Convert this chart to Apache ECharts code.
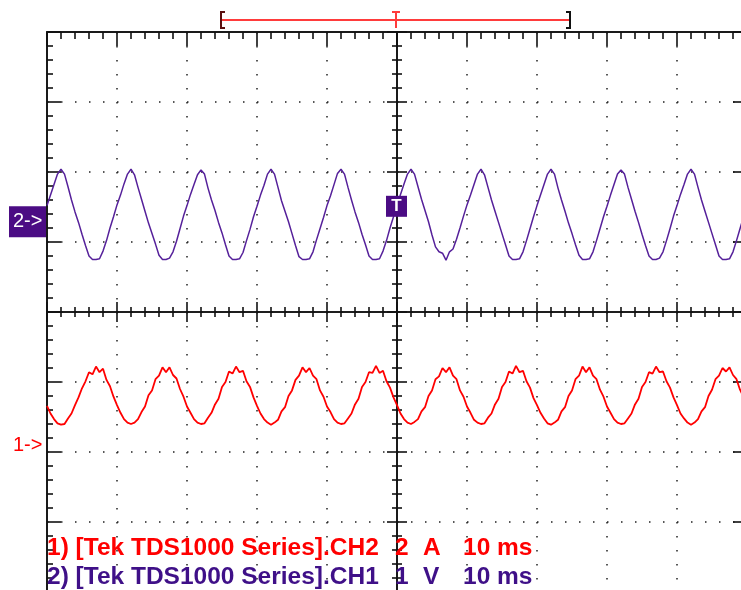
<!DOCTYPE html>
<html lang="en">
<head>
    <meta charset="utf-8">
    <title>Tek TDS1000 capture</title>
    <style media="screen">
        html, body { margin: 0; padding: 0; background: #fff; }
        #id-main-area { width: 741px; height: 590px; }
    </style>
</head>
<body>
    <div id="id-main-area"></div>
    <script src="https://cdn.jsdelivr.net/npm/echarts@6/dist/echarts.min.js"></script>
    <script>
        var log = console.log.bind(console)

        // sample clock: one sample every 0.5 ms, screen spans -50 .. 50 ms (10 ms/div)
        var startMs = -50
        var stepMs = 0.5

        // traces, in divisions from the centre line
        var ch2Trace = [
            1.52, 1.67, 1.82, 1.97, 2.04,
            1.97, 1.79, 1.60, 1.43, 1.28, 1.11, 0.95, 0.80, 0.75, 0.75, 0.76, 0.87, 1.02, 1.20, 1.36, 1.53, 1.67, 1.83, 1.97, 2.04,
            1.96, 1.78, 1.61, 1.44, 1.27, 1.12, 0.97, 0.81, 0.75, 0.75, 0.77, 0.86, 1.01, 1.19, 1.37, 1.52, 1.68, 1.82, 1.96, 2.03,
            1.97, 1.77, 1.60, 1.45, 1.28, 1.13, 0.96, 0.80, 0.75, 0.75, 0.76, 0.85, 1.02, 1.18, 1.36, 1.51, 1.67, 1.81, 1.97, 2.04,
            1.97, 1.78, 1.59, 1.44, 1.29, 1.12, 0.95, 0.79, 0.75, 0.75, 0.76, 0.86, 1.03, 1.19, 1.35, 1.52, 1.66, 1.82, 1.98, 2.04,
            1.97, 1.78, 1.60, 1.43, 1.28, 1.11, 0.96, 0.80, 0.75, 0.75, 0.76, 0.87, 1.02, 1.20, 1.36, 1.52, 1.68, 1.83, 1.97, 2.04,
            1.97, 1.79, 1.61, 1.45, 1.29, 1.10, 0.93, 0.86, 0.84, 0.74, 0.86, 0.90, 1.04, 1.20, 1.37, 1.53, 1.67, 1.82, 1.97, 2.04,
            1.96, 1.78, 1.60, 1.44, 1.28, 1.12, 0.96, 0.80, 0.75, 0.75, 0.76, 0.86, 1.02, 1.19, 1.36, 1.52, 1.67, 1.82, 1.97, 2.04,
            1.97, 1.77, 1.60, 1.44, 1.27, 1.12, 0.96, 0.81, 0.75, 0.75, 0.76, 0.86, 1.02, 1.19, 1.36, 1.51, 1.67, 1.82, 1.97, 2.03,
            1.97, 1.78, 1.61, 1.44, 1.28, 1.11, 0.95, 0.80, 0.75, 0.75, 0.77, 0.86, 1.02, 1.19, 1.37, 1.52, 1.68, 1.82, 1.97, 2.04,
            1.97, 1.78, 1.60, 1.44, 1.28, 1.12, 0.96, 0.80, 0.75, 0.75, 0.76, 0.86, 1.02, 1.19, 1.36, 1.52,
        ]

        var ch1Trace = [
            -1.34, -1.45, -1.53, -1.59, -1.61,
            -1.60, -1.52, -1.45, -1.33, -1.22, -1.09, -0.99, -0.86, -0.89, -0.78, -0.86, -0.81, -0.97, -1.06, -1.21, -1.33, -1.44, -1.53, -1.58, -1.60,
            -1.58, -1.53, -1.43, -1.35, -1.19, -1.12, -0.96, -0.91, -0.79, -0.86, -0.79, -0.90, -0.95, -1.10, -1.21, -1.35, -1.44, -1.53, -1.58, -1.60,
            -1.59, -1.51, -1.44, -1.32, -1.24, -1.07, -1.00, -0.85, -0.88, -0.78, -0.86, -0.84, -0.99, -1.07, -1.22, -1.34, -1.45, -1.53, -1.58, -1.61,
            -1.58, -1.54, -1.42, -1.36, -1.20, -1.12, -0.97, -0.91, -0.79, -0.86, -0.80, -0.91, -0.96, -1.12, -1.21, -1.35, -1.43, -1.53, -1.58, -1.60,
            -1.59, -1.52, -1.45, -1.32, -1.24, -1.07, -1.00, -0.86, -0.87, -0.77, -0.87, -0.84, -0.99, -1.08, -1.22, -1.33, -1.45, -1.53, -1.58, -1.60,
            -1.57, -1.53, -1.42, -1.36, -1.20, -1.12, -0.96, -0.92, -0.80, -0.86, -0.79, -0.91, -0.96, -1.12, -1.21, -1.35, -1.44, -1.54, -1.58, -1.60,
            -1.59, -1.51, -1.45, -1.32, -1.24, -1.07, -1.00, -0.85, -0.88, -0.77, -0.86, -0.84, -0.99, -1.08, -1.23, -1.33, -1.44, -1.52, -1.59, -1.61,
            -1.58, -1.54, -1.42, -1.36, -1.20, -1.12, -0.96, -0.91, -0.78, -0.86, -0.79, -0.91, -0.96, -1.11, -1.21, -1.35, -1.44, -1.53, -1.58, -1.60,
            -1.59, -1.52, -1.45, -1.32, -1.24, -1.07, -1.00, -0.86, -0.88, -0.78, -0.86, -0.85, -0.99, -1.08, -1.22, -1.33, -1.45, -1.52, -1.58, -1.61,
            -1.58, -1.53, -1.42, -1.36, -1.20, -1.11, -0.96, -0.91, -0.80, -0.85, -0.79, -0.90, -0.96, -1.11, -1.21, -1.35,
        ]

        // ground markers and trigger level, in divisions
        var ch2GroundDiv = 1.29
        var ch1GroundDiv = -1.9
        var triggerLevelDiv = 1.51

        var footerRows = [
            ['1) [Tek TDS1000 Series].CH2', '2', 'A', '10 ms'],
            ['2) [Tek TDS1000 Series].CH1', '1', 'V', '10 ms'],
        ]

        var purple = '#4b0c84'
        var tracePurple = '#55209a'
        var red = '#ff0000'

        var toPairs = (arr) => {
            var l = []
            for (var i = 0; i < arr.length; i++) {
                l.push([startMs + i * stepMs, arr[i]])
            }
            return l
        }

        var gridBox = { left: 47, top: 32, width: 700, height: 560, outerBoundsMode: 'none', containLabel: false }

        var timeAxis = (gridIndex, extra) => {
            return Object.assign({
                type: 'value', gridIndex: gridIndex,
                min: -50, max: 50, interval: 10,
                axisLabel: { show: false },
                splitLine: { show: false },
            }, extra)
        }

        var divAxis = (gridIndex, extra) => {
            return Object.assign({
                type: 'value', gridIndex: gridIndex,
                min: -4, max: 4, interval: 1,
                axisLabel: { show: false },
                splitLine: { show: false },
            }, extra)
        }

        var border = { show: true, onZero: false, lineStyle: { color: '#1a1a1a', width: 2 } }
        var cross = { show: true, onZero: true, lineStyle: { color: '#111', width: 1.6 } }
        var dots = { show: true, lineStyle: { color: '#222', width: 1.5, type: [1.5, 12.5] } }

        var ticks = (inside, len) => {
            return { show: true, inside: inside, length: len, lineStyle: { color: '#111', width: 1.6 } }
        }
        var minor = (len) => {
            return { show: true, splitNumber: 5, length: len, lineStyle: { color: '#111', width: 1.6 } }
        }

        var showChart = () => {
            var element = document.querySelector('#id-main-area')
            var myChart = echarts.init(element, null, { renderer: 'canvas' })
            var option = {
                animation: false,
                backgroundColor: '#fff',
                grid: [
                    Object.assign({}, gridBox),
                    Object.assign({}, gridBox),
                    Object.assign({}, gridBox),
                ],
                xAxis: [
                    timeAxis(0, { position: 'top', axisLine: border, axisTick: ticks(true, 14), minorTick: minor(7), splitLine: dots }),
                    timeAxis(1, { position: 'bottom', axisLine: cross, axisTick: ticks(true, 10), minorTick: minor(5) }),
                    timeAxis(2, { position: 'bottom', axisLine: cross, axisTick: ticks(false, 10), minorTick: minor(5) }),
                ],
                yAxis: [
                    divAxis(0, { position: 'left', axisLine: border, axisTick: ticks(true, 14), minorTick: minor(6), splitLine: dots }),
                    divAxis(0, { position: 'right', axisLine: border, axisTick: ticks(true, 14), minorTick: minor(6) }),
                    divAxis(1, { position: 'left', axisLine: cross, axisTick: ticks(true, 10), minorTick: minor(5) }),
                    divAxis(2, { position: 'left', axisLine: cross, axisTick: ticks(false, 10), minorTick: minor(5) }),
                ],
                series: [
                    {
                        name: 'CH2', type: 'line', xAxisIndex: 0, yAxisIndex: 0,
                        data: toPairs(ch1Trace), showSymbol: false, z: 5,
                        lineStyle: { color: red, width: 1.8 },
                    },
                    {
                        name: 'CH1', type: 'line', xAxisIndex: 0, yAxisIndex: 0,
                        data: toPairs(ch2Trace), showSymbol: false, z: 5,
                        lineStyle: { color: tracePurple, width: 1.5 },
                    },
                ],
            }
            myChart.setOption(option, true)

            var py = (v) => myChart.convertToPixel({ yAxisIndex: 0 }, v)
            var px = (t) => myChart.convertToPixel({ xAxisIndex: 0 }, t)
            var g2 = py(ch2GroundDiv)
            var g1 = py(ch1GroundDiv)
            var gt = py(triggerLevelDiv)
            var tx = px(0)

            var textStyle = (text, x, y, fill, font, align) => {
                return {
                    text: text, x: x, y: y, fill: fill, font: font,
                    textAlign: align || 'left', align: align || 'left',
                    textVerticalAlign: 'middle', verticalAlign: 'middle',
                }
            }

            var cols = [47, 395, 423, 463]
            var rowY = [548, 577]
            var rowColor = [red, '#3f1088']
            var footer = []
            for (var r = 0; r < footerRows.length; r++) {
                for (var c = 0; c < footerRows[r].length; c++) {
                    footer.push({
                        type: 'text', z: 100,
                        style: textStyle(footerRows[r][c], cols[c], rowY[r], rowColor[r], 'bold 24.5px "Liberation Sans", Arial, sans-serif'),
                    })
                }
            }

            var elements = [
                // record window bracket above the graticule
                { type: 'line', shape: { x1: 221, y1: 20, x2: 570, y2: 20 }, style: { stroke: '#ff3b3b', lineWidth: 2 } },
                { type: 'polyline', shape: { points: [[225, 12], [221, 12], [221, 28], [225, 28]] }, style: { stroke: '#5a1010', lineWidth: 2, fill: null } },
                { type: 'polyline', shape: { points: [[566, 12], [570, 12], [570, 28], [566, 28]] }, style: { stroke: '#111', lineWidth: 2, fill: null } },
                { type: 'line', shape: { x1: 392, y1: 12, x2: 400, y2: 12 }, style: { stroke: '#ff3b3b', lineWidth: 2 } },
                { type: 'line', shape: { x1: 396, y1: 12, x2: 396, y2: 28 }, style: { stroke: '#ff3b3b', lineWidth: 2 } },
                // channel ground markers
                { type: 'rect', z: 50, shape: { x: 9, y: g2 - 15.5, width: 37, height: 31 }, style: { fill: purple } },
                { type: 'text', z: 51, style: textStyle('2->', 13, g2, '#fff', '20px "Liberation Sans", Arial, sans-serif') },
                { type: 'text', z: 51, style: textStyle('1->', 13, g1, red, '20px "Liberation Sans", Arial, sans-serif') },
                // trigger marker
                { type: 'rect', z: 50, shape: { x: tx - 11, y: gt - 10.5, width: 21, height: 21 }, style: { fill: purple } },
                { type: 'text', z: 51, style: textStyle('T', tx - 0.5, gt, '#fff', 'bold 17px "Liberation Sans", Arial, sans-serif', 'center') },
            ]
            myChart.setOption({ graphic: { elements: elements.concat(footer) } })
        }

        var __main = () => {
            showChart()
        }

        __main()
    </script>
</body>
</html>
